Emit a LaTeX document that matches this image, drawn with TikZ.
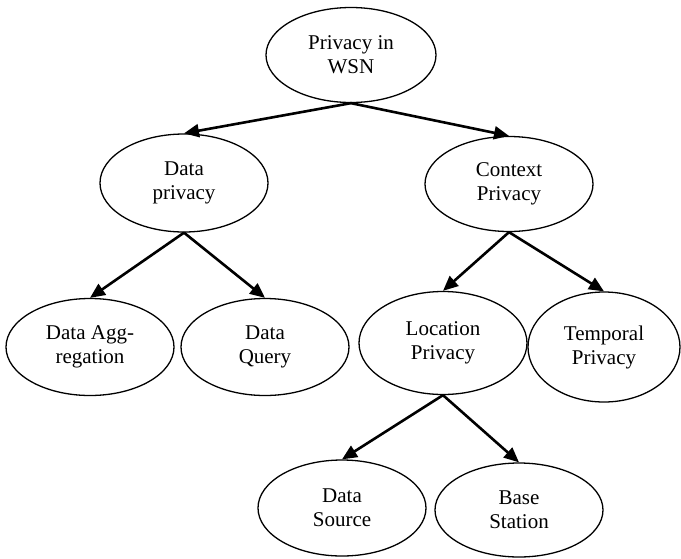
\documentclass[tikz,border=0pt]{standalone}
\usepackage{fontspec}
\setmainfont{Liberation Serif}
\usetikzlibrary{shapes.geometric,arrows.meta}
\tikzset{
  topic/.style={draw=black, line width=1.3pt, ellipse, inner sep=0pt,
    align=center, font=\fontsize{21}{24}\selectfont},
  link/.style={line width=2.6pt, -{Triangle[length=15pt,width=13pt]}}
}
\begin{document}
\begin{tikzpicture}[x=1pt,y=-1pt]
\useasboundingbox (0,0) rectangle (681,558);
\node[topic, minimum width=170pt, minimum height=95pt] (root) at (351,55) {Privacy in\\WSN};
\node[topic, minimum width=168pt, minimum height=98pt] (dp) at (184,183) {Data\\privacy};
\node[topic, minimum width=168pt, minimum height=95pt] (cp) at (509,184) {Context\\Privacy};
\node[topic, minimum width=168pt, minimum height=97pt] (agg) at (90,347) {Data Agg-\\regation};
\node[topic, minimum width=168pt, minimum height=97pt] (dq) at (265,347) {Data\\Query};
\node[topic, minimum width=168pt, minimum height=103pt] (lp) at (443,343) {Location\\Privacy};
\node[topic, minimum width=152pt, minimum height=110pt] (tp) at (604,347) {Temporal\\Privacy};
\node[topic, minimum width=168pt, minimum height=96pt] (ds) at (342,508) {Data\\Source};
\node[topic, minimum width=168pt, minimum height=94pt] (bs) at (519,510) {Base\\Station};
\draw[link] (root.south) -- (dp.north);
\draw[link] (root.south) -- (cp.north);
\draw[link] (dp.south) -- (agg.north);
\draw[link] (dp.south) -- (dq.north);
\draw[link] (cp.south) -- (lp.north);
\draw[link] (cp.south) -- (tp.north);
\draw[link] (lp.south) -- (ds.north);
\draw[link] (lp.south) -- (bs.north);
\end{tikzpicture}
\end{document}
